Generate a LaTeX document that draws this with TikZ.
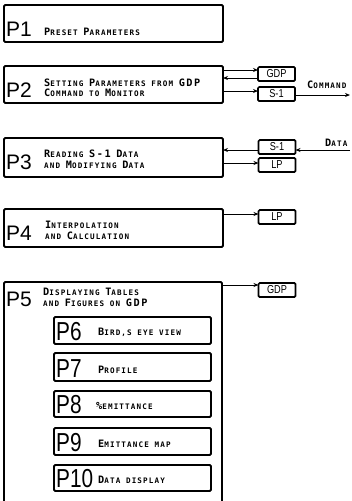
\documentclass[tikz,border=0pt]{standalone}
\usepackage{fontspec}
\usetikzlibrary{arrows.meta}
\newfontfamily\lett{DejaVu Sans Mono}[LetterSpace=15]
\newfontfamily\plab{Liberation Sans}
\newfontfamily\plabn{Liberation Sans}[FakeStretch=0.8]
\newcommand\Lc[1]{{\fontsize{10.2}{10}\selectfont #1}}
\begin{document}
\begin{tikzpicture}[x=1pt,y=-1pt,
 box/.style={draw, line width=1.9pt, rounded corners=1.2pt, inner sep=0pt, outer sep=0pt, anchor=north west},
 sbox/.style={box, line width=1.7pt, minimum width=37pt, minimum height=14pt, font=\plabn\fontsize{11.5}{11}\selectfont, anchor=center},
 txt/.style={anchor=base west, inner sep=0pt, text height=6pt, text depth=0pt, font=\lett\bfseries\fontsize{7.6}{8}\selectfont},
 plbl/.style={anchor=base west, inner sep=0pt, font=\plab\fontsize{21}{21}\selectfont},
 pilbl/.style={anchor=base west, inner sep=0pt, font=\plabn\fontsize{26}{26}\selectfont},
 arr/.style={line width=1pt, -{Stealth[length=5pt,width=4pt]}},
]
\useasboundingbox (0,0) rectangle (352,501);
\fill[white] (0,0) rectangle (352,501);

% P1
\node[box, minimum width=219pt, minimum height=37pt] (p1) at (4,5) {};
\node[plbl] (p1l) at (6,36) {P1};
\node[txt] (p1t) at (44,35) {\Lc{P}RESET \Lc{P}ARAMETERS};

% P2
\node[box, minimum width=219pt, minimum height=37pt] (p2) at (4,66) {};
\node[plbl] (p2l) at (6,97) {P2};
\node[txt] (p2a) at (44,86) {\Lc{S}ETTING \Lc{P}ARAMETERS FROM \Lc{GDP}};
\node[txt] (p2b) at (44,96) {\Lc{C}OMMAND TO \Lc{M}ONITOR};
\node[sbox] (gdpa) at (276.5,74) {GDP};
\node[sbox] (s1a) at (276.5,94) {S-1};
\coordinate (ya) at (0,70);
\coordinate (yb) at (0,78);
\coordinate (yc) at (0,91);
\coordinate (cmd) at (350,95);
\draw[arr] (p2.east |- ya) -- (gdpa.west |- ya);
\draw[arr] (gdpa.west |- yb) -- (p2.east |- yb);
\draw[arr] (p2.east |- yc) -- (s1a.west |- yc);
\draw[arr] (s1a.east |- cmd) -- (cmd);
\node[txt] (cmdt) at (307,88) {\Lc{C}OMMAND};

% P3
\node[box, minimum width=219pt, minimum height=39pt] (p3) at (4,138) {};
\node[plbl] (p3l) at (6,169) {P3};
\node[txt] (p3a) at (44,157) {\Lc{R}EADING \Lc{S-1} \Lc{D}ATA};
\node[txt] (p3b) at (44,168) {AND \Lc{M}ODIFYING \Lc{D}ATA};
\node[sbox] (s1b) at (277,147) {S-1};
\node[sbox] (lpb) at (277,165) {LP};
\coordinate (yd) at (0,150);
\coordinate (ye) at (0,163);
\coordinate (dat) at (350,150);
\draw[arr] (s1b.west |- yd) -- (p3.east |- yd);
\draw[arr] (dat) -- (s1b.east |- dat);
\draw[arr] (p3.east |- ye) -- (lpb.west |- ye);
\node[txt] (datt) at (325,146) {\Lc{D}ATA};

% P4
\node[box, minimum width=219pt, minimum height=38pt] (p4) at (4,209) {};
\node[plbl] (p4l) at (6,240) {P4};
\node[txt] (p4a) at (45,228) {\Lc{I}NTERPOLATION};
\node[txt] (p4b) at (45,239) {AND \Lc{C}ALCULATION};
\node[sbox] (lpc) at (277,217) {LP};
\coordinate (yf) at (0,214);
\draw[arr] (p4.east |- yf) -- (lpc.west |- yf);

% P5 (open at the bottom)
\draw[line width=1.9pt, rounded corners=1.2pt] (4,506) -- (4,282) -- (222,282) -- (222,506);
\coordinate (p5e) at (222,285);
\node[plbl] (p5l) at (6,306) {P5};
\node[txt] (p5a) at (43,295) {\Lc{D}ISPLAYING \Lc{T}ABLES};
\node[txt] (p5b) at (43,306) {AND \Lc{F}IGURES ON \Lc{GDP}};
\node[sbox] (gdpc) at (277,290) {GDP};
\draw[arr] (p5e) -- (gdpc.west |- p5e);

% P6 - P10
\node[box, minimum width=157pt, minimum height=27pt] (p6) at (54,317) {};
\node[pilbl] (p6l) at (56,340) {P6};
\node[txt] (p6t) at (98,335) {\Lc{B}IRD,S EYE VIEW};

\node[box, minimum width=157pt, minimum height=28pt] (p7) at (54,353) {};
\node[pilbl] (p7l) at (56,377) {P7};
\node[txt] (p7t) at (98,373) {\Lc{P}ROFILE};

\node[box, minimum width=157pt, minimum height=26pt] (p8) at (54,391) {};
\node[pilbl] (p8l) at (56,413) {P8};
\node[txt] (p8t) at (96,409) {\Lc{\%}EMITTANCE};

\node[box, minimum width=157pt, minimum height=27pt] (p9) at (54,428) {};
\node[pilbl] (p9l) at (56,451) {P9};
\node[txt] (p9t) at (98,447) {\Lc{E}MITTANCE MAP};

\node[box, minimum width=157pt, minimum height=26pt] (p10) at (54,465) {};
\node[pilbl] (p10l) at (56,487) {P10};
\node[txt] (p10t) at (98,483) {\Lc{D}ATA DISPLAY};
\end{tikzpicture}
\end{document}
